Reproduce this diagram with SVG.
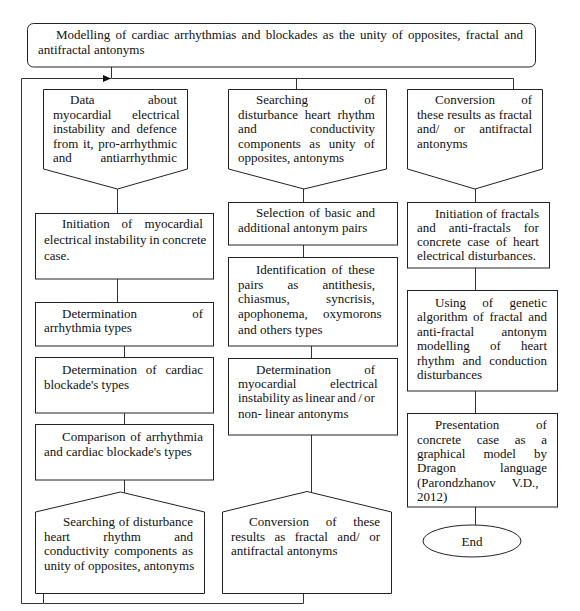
<svg xmlns="http://www.w3.org/2000/svg" width="580" height="611" viewBox="0 0 580 611">
<style>
.b{fill:#fff;stroke:#222;stroke-width:1}
.c{fill:none;stroke:#333;stroke-width:1}
text{font-family:"Liberation Serif","Times New Roman",serif;font-size:13px;fill:#111}
</style>
<defs>
<marker id="ah" markerUnits="userSpaceOnUse" markerWidth="9" markerHeight="8" refX="8" refY="3.5" orient="auto">
<path d="M0,0 L8,3.5 L0,7 z" fill="#111"/>
</marker>
</defs>
<rect width="580" height="611" fill="#fff"/>
<g id="connectors">
<path class="c" d="M111.5,67 V78.5 H513.5 V89"/>
<path class="c" d="M296.5,78.5 V89"/>
<path class="c" d="M43.5,593 V603.5 H21.5 V78.5 H111" marker-end="url(#ah)"/>
<path class="c" d="M303.5,593 V603.5 H43.5"/>
<path class="c" d="M117.5,189 V213"/>
<path class="c" d="M117.5,279 V302"/>
<path class="c" d="M124.5,346 V357"/>
<path class="c" d="M124.5,413 V424"/>
<path class="c" d="M124.5,480 V493"/>
<path class="c" d="M303.5,189 V202"/>
<path class="c" d="M303.5,245 V257"/>
<path class="c" d="M311.5,346 V358"/>
<path class="c" d="M311.5,435 V492"/>
<path class="c" d="M475.5,189 V202"/>
<path class="c" d="M475.5,268 V290"/>
<path class="c" d="M475.5,391 V413"/>
<path class="c" d="M475.5,507 V525"/>
</g>
<g id="n-top">
<rect class="b" x="27.5" y="23.5" width="508" height="43.5" rx="6"/>
<text x="56" y="39" word-spacing="2">Modelling of cardiac arrhythmias and blockades as the unity of opposites, fractal and</text>
<text x="38" y="54">antifractal antonyms</text>
</g>
<g id="n-data">
<polygon class="b" points="43.5,89.5 187.5,89.5 187.5,169 117.5,189 43.5,169"/>
<text x="70" y="104" word-spacing="50.3">Data about</text>
<text x="53" y="118.5" word-spacing="17.2">myocardial electrical</text>
<text x="53" y="133" word-spacing="3.1">instability and defence</text>
<text x="53" y="147.5" word-spacing="1.5">from it, pro-arrhythmic</text>
<text x="53" y="162" word-spacing="25.4">and antiarrhythmic</text>
</g>
<g id="n-search1">
<polygon class="b" points="228.5,89.5 386.5,89.5 386.5,169 304,189 228.5,169"/>
<text x="256" y="104" word-spacing="52.9">Searching of</text>
<text x="238" y="118.5" word-spacing="3.5">disturbance heart rhythm</text>
<text x="238" y="133" word-spacing="50">and conductivity</text>
<text x="238" y="147.5" word-spacing="5.3">components as unity of</text>
<text x="238" y="162">opposites, antonyms</text>
</g>
<g id="n-conv1">
<polygon class="b" points="407.5,89.5 542.5,89.5 542.5,169 475,189 407.5,169"/>
<text x="435" y="104" word-spacing="23">Conversion of</text>
<text x="417" y="118.5" word-spacing="0.2">these results as fractal</text>
<text x="417" y="133" word-spacing="11.3">and/ or antifractal</text>
<text x="417" y="147.5">antonyms</text>
</g>
<g id="n-init">
<rect class="b" x="35.5" y="213.5" width="178" height="65.5"/>
<text x="62" y="228" word-spacing="8.7">Initiation of myocardial</text>
<text x="44" y="244" word-spacing="-0.4">electrical instability in concrete</text>
<text x="44" y="260">case.</text>
</g>
<g id="n-det-arr">
<rect class="b" x="35.5" y="302.5" width="178" height="43.5"/>
<text x="62" y="318" word-spacing="51.8">Determination of</text>
<text x="44" y="332">arrhythmia types</text>
</g>
<g id="n-det-block">
<rect class="b" x="35.5" y="357.5" width="178" height="55.5"/>
<text x="62" y="374" word-spacing="5.5">Determination of cardiac</text>
<text x="44" y="389">blockade's types</text>
</g>
<g id="n-compare">
<rect class="b" x="35.5" y="424.5" width="178" height="55.5"/>
<text x="62" y="441" word-spacing="1.5">Comparison of arrhythmia</text>
<text x="44" y="456">and cardiac blockade's types</text>
</g>
<g id="n-search2">
<polygon class="b" points="35.5,593.5 35.5,512 120.5,492 204.5,512 204.5,593.5"/>
<text x="63" y="526" word-spacing="0.4">Searching of disturbance</text>
<text x="44" y="540.5" word-spacing="30.1">heart rhythm and</text>
<text x="44" y="555" word-spacing="1.9">conductivity components as</text>
<text x="44" y="569.5">unity of opposites, antonyms</text>
</g>
<g id="n-select">
<rect class="b" x="228.5" y="202.5" width="169" height="42.5"/>
<text x="256" y="217" word-spacing="1.5">Selection of basic and</text>
<text x="238" y="232">additional antonym pairs</text>
</g>
<g id="n-ident">
<rect class="b" x="228.5" y="257.5" width="169" height="88.5"/>
<text x="256" y="274" word-spacing="2.4">Identification of these</text>
<text x="238" y="288.5" word-spacing="21">pairs as antithesis,</text>
<text x="238" y="303" word-spacing="33.2">chiasmus, syncrisis,</text>
<text x="238" y="317.5" word-spacing="12.1">apophonema, oxymorons</text>
<text x="238" y="334">and others types</text>
</g>
<g id="n-det-mid">
<rect class="b" x="228.5" y="358.5" width="169" height="76.5"/>
<text x="256" y="374" word-spacing="29.8">Determination of</text>
<text x="238" y="388" word-spacing="30.2">myocardial electrical</text>
<text x="238" y="402" word-spacing="-1">instability as linear and / or</text>
<text x="238" y="418">non- linear antonyms</text>
</g>
<g id="n-conv2">
<polygon class="b" points="222.5,593.5 222.5,512 307,491.5 391.5,512 391.5,593.5"/>
<text x="249" y="526" word-spacing="13.5">Conversion of these</text>
<text x="231" y="540.5" word-spacing="6.2">results as fractal and/ or</text>
<text x="231" y="555">antifractal antonyms</text>
</g>
<g id="n-init-fr">
<rect class="b" x="407.5" y="202.5" width="142" height="65.5"/>
<text x="435" y="218" word-spacing="0.4">Initiation of fractals</text>
<text x="417" y="232" word-spacing="9.7">and anti-fractals for</text>
<text x="417" y="246" word-spacing="3">concrete case of heart</text>
<text x="417" y="260">electrical disturbances.</text>
</g>
<g id="n-using">
<rect class="b" x="407.5" y="290.5" width="150" height="100.5"/>
<text x="435" y="307" word-spacing="13">Using of genetic</text>
<text x="417" y="321.4" word-spacing="2.3">algorithm of fractal and</text>
<text x="417" y="335.8" word-spacing="24.2">anti-fractal antonym</text>
<text x="417" y="350.2" word-spacing="17">modelling of heart</text>
<text x="417" y="364.6" word-spacing="4.7">rhythm and conduction</text>
<text x="417" y="379">disturbances</text>
</g>
<g id="n-present">
<rect class="b" x="407.5" y="413.5" width="150" height="93.5"/>
<text x="435" y="429" word-spacing="33.6">Presentation of</text>
<text x="417" y="443.5" word-spacing="12.4">concrete case as a</text>
<text x="417" y="458" word-spacing="14.8">graphical model by</text>
<text x="417" y="472" word-spacing="40.8">Dragon language</text>
<text x="417" y="486.5" word-spacing="13">(Parondzhanov V.D.,</text>
<text x="417" y="501">2012)</text>
</g>
<g id="n-end">
<ellipse class="b" cx="472" cy="541" rx="49" ry="16"/>
<text x="472" y="545.5" text-anchor="middle">End</text>
</g>
</svg>
